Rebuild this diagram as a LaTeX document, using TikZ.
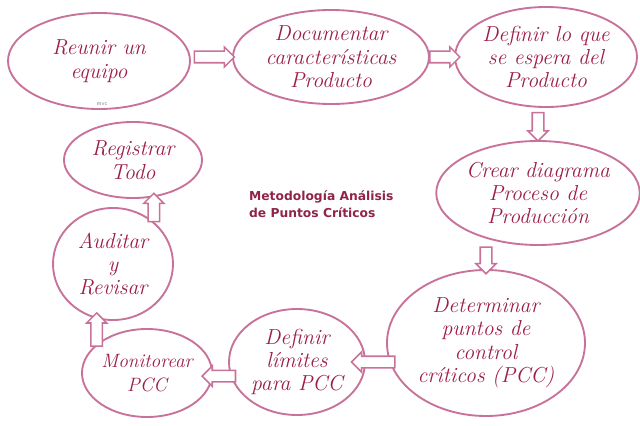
\documentclass[tikz,border=0pt]{standalone}
\usepackage{fontspec}
\usepackage{tikz}
\usetikzlibrary{positioning,shapes.geometric,shapes.arrows}
\newfontfamily\titlefont{DejaVu Sans}
\definecolor{rim}{HTML}{C8729A}
\definecolor{ink}{HTML}{9B1E48}
\definecolor{heading}{HTML}{8E2447}
\tikzset{
  stage/.style={draw=rim, ellipse, line width=1.6pt, fill=white, inner sep=0pt, align=center, text=ink,
    font=\itshape\fontsize{18.5}{20}\selectfont},
  blockarrow/.style={draw=rim, single arrow, line width=1.3pt, fill=white, inner sep=0pt, inner ysep=0.15cm,
    single arrow head extend=0.13cm, minimum height=#1, sloped, allow upside down},
  blockarrow/.default=1cm
}

\begin{document}
\begin{tikzpicture}[x=0.03cm, y=-0.03cm, font=\small]
  \useasboundingbox (0,0) rectangle (640,426);

  \node[stage, minimum width=5.46cm, minimum height=2.88cm] (meet) at (99,61) {Reunir un\\ equipo};
  \node[stage, minimum width=5.88cm, minimum height=2.82cm] (describe) at (331,57) {Documentar\\ características\\ Producto};
  \node[stage, minimum width=5.46cm, minimum height=3.0cm] (expect) at (546,57) {Definir lo que\\ se espera del\\ Producto};
  \node[stage, minimum width=6.0cm, minimum height=3.12cm] (flowchart) at (538,193) {Crear diagrama\\ Proceso de\\ Producción};
  \node[stage, minimum width=5.94cm, minimum height=4.38cm] (ccp) at (486,343) {Determinar\\ puntos de\\ control\\ críticos (PCC)};
  \node[stage, minimum width=4.08cm, minimum height=3.18cm] (limits) at (297,362) {Definir\\ límites\\ para PCC};
  \node[stage, minimum width=3.9cm, minimum height=2.64cm, font=\itshape\fontsize{16.5}{20}\selectfont] (monitor) at (147,373) {Monitorear\\ PCC};
  \node[stage, minimum width=3.6cm, minimum height=3.36cm] (audit) at (113,264) {Auditar\\ y\\ Revisar};
  \node[stage, minimum width=4.14cm, minimum height=2.28cm] (record) at (133,160) {Registrar\\ Todo};

  \node[text=gray, font=\sffamily\fontsize{5}{5}\selectfont] (mark) at (102,104) {mvc};
  \node[anchor=west, align=left, text=heading, font=\titlefont\bfseries\fontsize{10.5}{15}\selectfont] (title) at (245,204)
    {Metodología Análisis\\ de Puntos Críticos};

  \path (meet.east |- describe.west) -- node[blockarrow=1.2cm] {} (describe.west);
  \path (describe.east) -- node[blockarrow=0.9cm] {} (expect.west);
  \path (flowchart.north |- expect.south) -- node[blockarrow=0.85cm] {} (flowchart.north);
  \path (ccp.north |- flowchart.south) -- node[blockarrow=0.8cm] {} (ccp.north);
  \path (ccp.west |- limits.east) -- node[blockarrow=1.3cm] {} (limits.east);
  \path (limits.192) -- node[blockarrow=1.0cm] {} (monitor.east |- limits.192);
  \path (monitor.150) -- node[blockarrow=1.0cm] {} (monitor.150 |- audit.south);
  \path (audit.46) -- node[blockarrow=0.85cm] {} (audit.46 |- record.south);
\end{tikzpicture}
\end{document}
